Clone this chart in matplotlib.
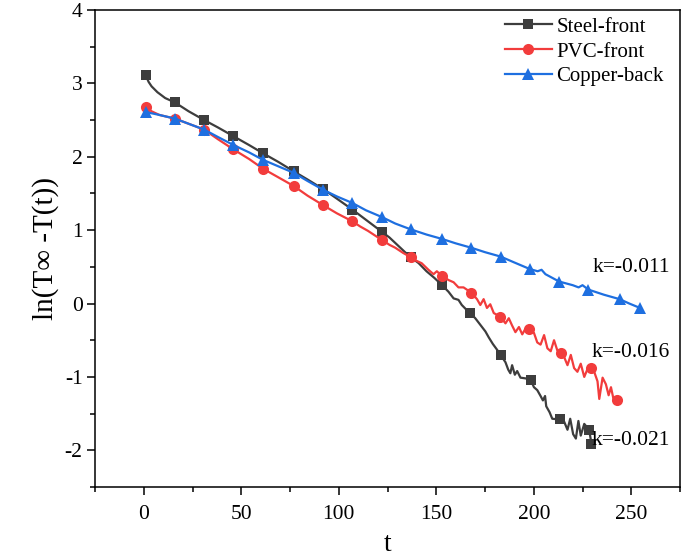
import numpy as np
import matplotlib
matplotlib.use("Agg")
import matplotlib.pyplot as plt
from matplotlib.lines import Line2D

plt.rcParams['font.family'] = ['Liberation Serif', 'DejaVu Serif']
plt.rcParams['axes.unicode_minus'] = False

# ---------------- data ----------------
steel_t = [1, 2.5, 4, 7, 11, 16, 23, 31, 38, 46, 54, 61, 69, 77, 84, 92, 99, 107, 114, 122,
           126, 130, 134, 137, 141, 145, 149, 153, 156.3, 158.9, 161.4, 163.1, 165.7, 167.4,
           170, 172.6, 175.2, 176.9, 179, 181.2, 183, 185.5, 186.9, 188, 188.9, 190.3, 191.5,
           193.2, 195.8, 198.4, 200.1, 201.8, 203.5, 204.7, 205.8, 206.4, 208.1, 209.5, 213.3,
           215.6, 217.3, 218.7, 220.2, 221.6, 222.9, 224.1, 225.9, 228.4, 229.6]
steel_y = [3.11, 3.02, 2.96, 2.88, 2.80, 2.74, 2.62, 2.50, 2.40, 2.28, 2.16, 2.05, 1.93, 1.80, 1.69,
           1.56, 1.43, 1.28, 1.14, 0.98, 0.90, 0.80, 0.70, 0.63, 0.55, 0.44, 0.35, 0.25, 0.16, 0.07,
           0.05, -0.02, -0.09, -0.13, -0.20, -0.29, -0.38, -0.46, -0.55, -0.63, -0.70, -0.80, -0.90,
           -0.95, -0.84, -0.97, -0.92, -1.01, -1.02, -1.04, -1.14, -1.18, -1.26, -1.32, -1.26, -1.40,
           -1.48, -1.57, -1.58, -1.61, -1.72, -1.57, -1.78, -1.84, -1.60, -1.80, -1.64, -1.72, -1.91]
steel_mk = [1, 16, 31, 46, 61, 77, 92, 107, 122, 137, 153, 167.4, 183, 198.4, 213.3, 228.4, 229.6]

pvc_t = [1, 4, 8, 16, 23, 31, 38, 46, 54, 61, 69, 77, 84, 92, 99, 107, 111, 115, 119, 122, 126,
         129, 133, 137, 140, 142.5, 146, 148.6, 150.3, 152.8, 156.3, 158.9, 161.4, 164, 167.9,
         170.9, 172.6, 174.3, 176, 177.7, 179.5, 182.9, 185.5, 187.2, 188.9, 190.6, 192.4, 194.1,
         195.8, 197.8, 200.1, 201.8, 203.5, 205.3, 207, 208.7, 210.4, 212.1, 213.8, 215.6, 217.3,
         219, 220.7, 222.4, 224.1, 225.9, 227.6, 229.3, 231, 232.7, 233.6, 235.3, 237, 238.4,
         239.6, 240.8, 242.5]
pvc_y = [2.68, 2.62, 2.57, 2.52, 2.45, 2.37, 2.24, 2.10, 1.97, 1.84, 1.72, 1.60, 1.47, 1.34, 1.23,
         1.12, 1.05, 0.99, 0.92, 0.87, 0.80, 0.76, 0.69, 0.63, 0.58, 0.55, 0.46, 0.40, 0.44, 0.38,
         0.32, 0.29, 0.22, 0.22, 0.15, 0.06, -0.02, 0.06, -0.06, -0.01, -0.13, -0.18, -0.27, -0.20,
         -0.30, -0.39, -0.32, -0.42, -0.34, -0.35, -0.40, -0.53, -0.56, -0.43, -0.61, -0.65, -0.50,
         -0.64, -0.68, -0.73, -0.84, -0.70, -0.88, -0.93, -0.82, -1.00, -0.89, -0.88, -0.93, -1.06,
         -1.30, -1.01, -1.10, -1.25, -1.14, -1.29, -1.31]
pvc_mk = [1, 16, 31, 46, 61, 77, 92, 107, 122, 137, 152.8, 167.9, 182.9, 197.8, 213.8, 229.3, 242.5]

copper_t = [1, 8, 16, 23, 31, 38, 46, 54, 61, 69, 77, 84, 92, 99, 107, 114, 122, 129, 137, 145,
            153, 160, 168, 175, 183, 190, 198, 202, 204, 206, 213, 220, 223, 225, 228, 236, 244,
            249, 254.5]
copper_y = [2.61, 2.57, 2.52, 2.45, 2.37, 2.27, 2.16, 2.06, 1.96, 1.87, 1.78, 1.67, 1.55, 1.46,
            1.37, 1.27, 1.18, 1.09, 1.01, 0.94, 0.88, 0.82, 0.76, 0.70, 0.64, 0.56, 0.47, 0.44,
            0.46, 0.40, 0.30, 0.25, 0.22, 0.25, 0.19, 0.12, 0.06, 0.00, -0.06]
copper_mk = [1, 16, 31, 46, 61, 77, 92, 107, 122, 137, 153, 168, 183, 198, 213, 228, 244, 254.5]

labels = ['Steel-front', 'PVC-front', 'Copper-back']
k_labels = ['k=-0.011', 'k=-0.016', 'k=-0.021']
k_pos_y = [0.49, -0.67, -1.86]

colors = ['#3d3d3d', '#f23c3c', '#1e6fe0']
markers = ['s', 'o', '^']

# ---------------- figure ----------------
fig = plt.figure(figsize=(6.86, 5.6), dpi=100)
ax = fig.add_axes([95 / 686, 1 - 487 / 560, (680 - 95) / 686, (487 - 10) / 560])

series = [(steel_t, steel_y, steel_mk), (pvc_t, pvc_y, pvc_mk), (copper_t, copper_y, copper_mk)]
msizes = [7.5, 8, 8.5]
handles = []
for (t, y, mk), c, m, lab, ms in zip(series, colors, markers, labels, msizes):
    t = np.asarray(t, float)
    idx = [int(np.argmin(np.abs(t - v))) for v in mk]
    ax.plot(t, y, color=c, lw=1.6, marker=m, markersize=ms, markevery=idx,
            markeredgewidth=0, zorder=3)
    handles.append(Line2D([], [], color=c, lw=1.6, marker=m, markersize=ms,
                          markeredgewidth=0, label=lab))

for txt, yy in zip(k_labels, k_pos_y):
    ax.text(270, yy, txt, ha='right', va='center', fontsize=15.5)

ax.set_xlim(-25, 275)
ax.set_ylim(-2.5, 4)
ax.set_xticks([0, 50, 100, 150, 200, 250])
ax.set_xticks(np.arange(-25, 276, 50), minor=True)
ax.set_yticks([-2, -1, 0, 1, 2, 3, 4])
ax.set_yticks(np.arange(-2.5, 4.01, 0.5), minor=True)

ax.tick_params(which='major', direction='out', length=6, width=1.1, labelsize=15.5)
ax.tick_params(which='minor', direction='out', length=3.5, width=1.1)
ax.tick_params(axis='x', which='major', pad=7)
ax.tick_params(axis='y', which='major', pad=3)
for s in ax.spines.values():
    s.set_linewidth(1.1)

ax.set_xlabel('t', fontsize=20, labelpad=6)
ax.set_ylabel('ln(T\u221e -T(t))', fontsize=21, labelpad=4)

leg = ax.legend(handles=handles, loc='upper left', bbox_to_anchor=(0.70, 0.985),
                frameon=False, fontsize=15, handlelength=2.3, handletextpad=0.2,
                labelspacing=0.25, borderpad=0, borderaxespad=0)

fig.savefig('out.png', dpi=100)
